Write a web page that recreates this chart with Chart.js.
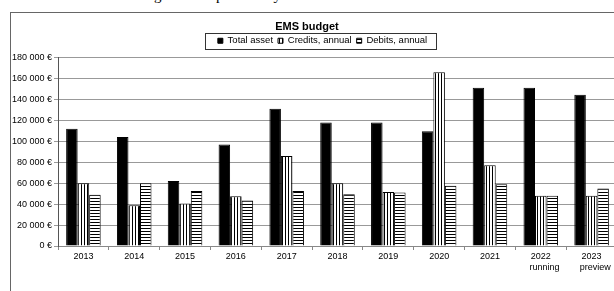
<!DOCTYPE html>
<html>
<head>
<meta charset="utf-8">
<script src="https://cdn.jsdelivr.net/npm/chart.js@4/dist/chart.umd.min.js"></script>
<style>
  html, body { margin: 0; padding: 0; background: #fff; overflow: hidden; width: 614px; height: 291px; }
  #cap { position: absolute; left: 30px; top: -13px; font-family: "Liberation Serif", serif; font-size: 15px; color: #000; white-space: nowrap; }
  #frame { position: absolute; left: 10px; top: 12px; width: 700px; height: 400px; border: 1px solid #666; box-sizing: border-box; }
  #c { position: absolute; left: 0; top: 0; }
</style>
</head>
<body>
<div id="cap">Table 2.13 EMS budget development of years</div>
<div id="frame"></div>
<canvas id="c" width="622" height="291"></canvas>
<script>
const years = ['2013','2014','2015','2016','2017','2018','2019','2020','2021','2022','2023'];
const subLabels = ['','','','','','','','','','running','preview'];
const totalAsset = [112000,104000,62000,97000,131000,118000,118000,109500,151000,151000,144500];
const credits = [60000,39000,40500,47500,86000,60000,51500,166000,77000,48000,48000];
const debits = [49000,60000,52500,43500,52500,49500,51000,57500,59000,48000,55000];
const yTicks = [0,20000,40000,60000,80000,100000,120000,140000,160000,180000];
const chartTitle = 'EMS budget';

function makePattern(vertical) {
  const p = document.createElement('canvas');
  p.width = 3; p.height = 3;
  const g = p.getContext('2d');
  g.fillStyle = '#fff'; g.fillRect(0,0,3,3);
  g.fillStyle = '#000';
  if (vertical) g.fillRect(0,0,1,3); else g.fillRect(0,0,3,1);
  return document.getElementById('c').getContext('2d').createPattern(p, 'repeat');
}
const vPat = makePattern(true);
const hPat = makePattern(false);

const labels = years.map((y,i) => subLabels[i] ? [y, '   ' + subLabels[i]] : y);

const decor = {
  id: 'decor',
  afterLayout(chart) {
    const lg = chart.legend;
    if (lg) { lg.left += 9; lg.right += 9; lg.top -= 2; lg.bottom -= 2; }
  },
  afterDraw(chart) {
    const ctx = chart.ctx;
    ctx.save();
    ctx.fillStyle = '#000';
    ctx.font = 'bold 11px "Liberation Sans", Arial, sans-serif';
    ctx.textAlign = 'center';
    ctx.textBaseline = 'middle';
    ctx.fillText(chartTitle, 307, 26.5);
    const lg = chart.legend;
    if (lg && lg.legendHitBoxes.length) {
      const hb = lg.legendHitBoxes;
      const l = Math.min(...hb.map(h => h.left)) - 13;
      const r = Math.max(...hb.map(h => h.left + h.width)) + 9;
      const t = hb[0].top - 3;
      const b = hb[0].top + hb[0].height + 3;
      ctx.strokeStyle = '#333';
      ctx.lineWidth = 1;
      ctx.strokeRect(Math.round(l)+0.5, Math.round(t)+0.5, Math.round(r-l), Math.round(b-t));
    }
    ctx.restore();
  }
};

Chart.defaults.font.family = '"Liberation Sans", Arial, sans-serif';
Chart.defaults.color = '#000';

new Chart(document.getElementById('c'), {
  type: 'bar',
  data: {
    labels: labels,
    datasets: [
      { label: 'Total asset', data: totalAsset, backgroundColor: '#000', borderColor: '#000', borderWidth: 1 },
      { label: 'Credits, annual', data: credits, backgroundColor: vPat, borderColor: '#000', borderWidth: 1 },
      { label: 'Debits, annual', data: debits, backgroundColor: hPat, borderColor: '#000', borderWidth: 1 }
    ]
  },
  options: {
    responsive: false,
    animation: false,
    devicePixelRatio: 1,
    layout: { padding: { top: 33, left: 10, right: 5, bottom: 0 } },
    datasets: { bar: { categoryPercentage: 0.68, barPercentage: 1.0 } },
    plugins: {
      title: { display: false },
      legend: {
        display: true,
        labels: { boxWidth: 5, boxHeight: 5, font: { size: 9.5 }, padding: 5, color: '#000' }
      },
      tooltip: { enabled: false }
    },
    scales: {
      x: {
        offset: true,
        grid: { offset: true, drawOnChartArea: false, drawTicks: true, tickLength: 4, color: '#888' },
        border: { color: '#888' },
        ticks: { font: { size: 9 }, padding: 1, maxRotation: 0, autoSkip: false },
        afterFit(s) { s.height = 45; }
      },
      y: {
        min: 0, max: 180000,
        afterBuildTicks(s) { s.ticks = yTicks.map(v => ({ value: v })); },
        grid: { color: '#999', tickLength: 4, drawTicks: true },
        border: { color: '#555' },
        ticks: {
          font: { size: 9 }, padding: 2,
          callback: v => v.toString().replace(/\B(?=(\d{3})+(?!\d))/g, ' ') + ' €'
        },
        afterFit(s) { s.width = 48; }
      }
    }
  },
  plugins: [decor]
});
</script>
</body>
</html>
